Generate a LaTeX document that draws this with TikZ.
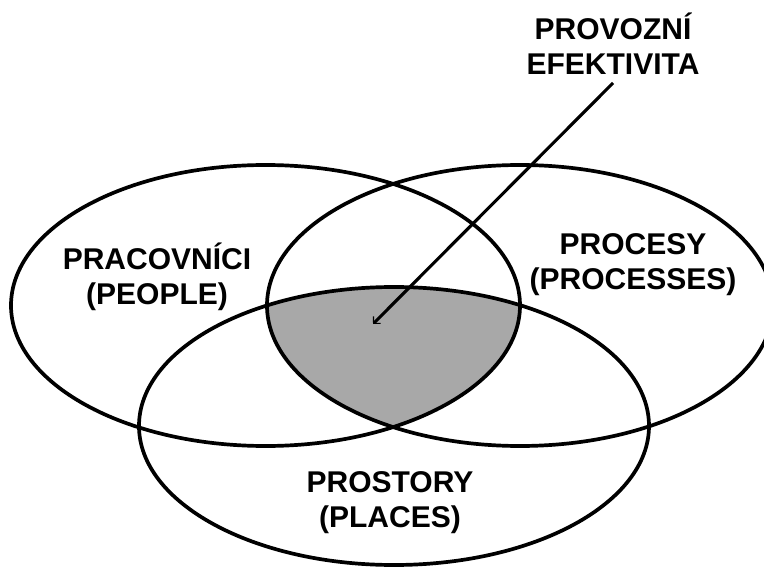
\documentclass[tikz,border=0pt]{standalone}
\usepackage{fontspec}
\setmainfont{Liberation Sans}
\usetikzlibrary{arrows.meta}
\definecolor{corefill}{RGB}{168,168,168}
\begin{document}
\begin{tikzpicture}[x=1pt,y=-1pt,
  setline/.style={line width=3.7pt},
  lbl/.style={font=\fontsize{30}{35}\selectfont\bfseries, align=center, inner sep=0pt, anchor=base},
  pointer/.style={line width=3.1pt, -{Straight Barb[angle=90:7pt, line width=1.2pt]}}]
\useasboundingbox (0,0) rectangle (764,567);
\clip (0,0) rectangle (764,567);

% the three sets
\def\peoplepath{(265.5,305.5) ellipse [x radius=254.5pt, y radius=140.5pt]}
\def\processpath{(520,305.5) ellipse [x radius=253pt, y radius=140.5pt]}
\def\placepath{(394,426) ellipse [x radius=255pt, y radius=139pt]}

% common core of all three sets
\begin{scope}
  \clip \peoplepath;
  \clip \processpath;
  \fill[corefill] \placepath;
\end{scope}

\draw[setline] \peoplepath;
\draw[setline] \processpath;
\draw[setline] \placepath;

% labels (anchor is the baseline of the second line)
\node[lbl] (people) at (157,304) {PRACOVNÍCI\\(PEOPLE)};
\node[lbl] (processes) at (633,289) {PROCESY\\(PROCESSES)};
\node[lbl] (places) at (390,527) {PROSTORY\\(PLACES)};
\node[lbl] (efficiency) at (613,75) {PROVOZNÍ\\EFEKTIVITA};

% pointer into the common core
\coordinate (pstart) at (613,83);
\coordinate (core) at (373,324);
\draw[pointer] (pstart) -- (core);
\end{tikzpicture}
\end{document}
